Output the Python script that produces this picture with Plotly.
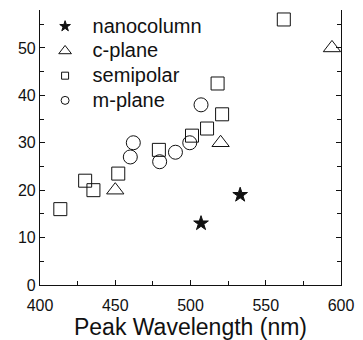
import plotly.graph_objects as go

# Data
nano_x = [507, 533]
nano_y = [13, 19]

cplane_x = [450, 520, 594]
cplane_y = [20, 30, 50]

semi_x = [413.5, 430, 435.5, 452, 479, 501, 511, 518, 521, 562]
semi_y = [16, 22, 20, 23.5, 28.5, 31.5, 33, 42.5, 36, 56]

mplane_x = [460, 462, 479.5, 490, 499.5, 507]
mplane_y = [27, 30, 26, 28, 30, 38]

series_names = ["nanocolumn", "c-plane", "semipolar", "m-plane"]

FONT = "Liberation Sans, Arial, sans-serif"
INK = "#111111"

fig = go.Figure()

main = [
    (nano_x, nano_y, "star", 11, INK),
    (cplane_x, cplane_y, "triangle-up-open", 15, None),
    (semi_x, semi_y, "square-open", 13, None),
    (mplane_x, mplane_y, "circle-open", 14, None),
]
legend_sizes = [8, 11, 7, 8]

for (xs, ys, sym, sz, fill), name, lsz in zip(main, series_names, legend_sizes):
    fig.add_trace(go.Scatter(
        x=xs, y=ys, mode="markers", name=name, showlegend=False,
        legendgroup=name, cliponaxis=False,
        marker=dict(symbol=sym, size=sz, color=INK,
                    line=dict(color=INK, width=1)),
    ))
    # legend-only entry with smaller marker, as in the reference legend
    fig.add_trace(go.Scatter(
        x=[None], y=[None], mode="markers",
        name='<span style="font-size:20px">' + name + '</span>',
        legendgroup=name, showlegend=True,
        marker=dict(symbol=sym, size=lsz, color=INK,
                    line=dict(color=INK, width=1)),
    ))

fig.update_layout(
    width=363, height=340,
    margin=dict(l=40, r=17, t=9, b=47),
    paper_bgcolor="white", plot_bgcolor="white",
    font=dict(family=FONT, color=INK, size=16),
    showlegend=True,
    legend=dict(
        x=-0.008, y=1.004, xanchor="left", yanchor="top",
        bgcolor="rgba(0,0,0,0)", borderwidth=0,
        font=dict(size=16.7, family=FONT, color=INK),
        itemwidth=45, itemsizing="trace",
        tracegroupgap=0,
    ),
    xaxis=dict(
        range=[400, 600], tickvals=[400, 450, 500, 550, 600],
        ticks="inside", ticklen=5, tickwidth=1, tickcolor=INK,
        showline=True, linecolor=INK, linewidth=1.2, mirror=False,
        showgrid=False, zeroline=False,
        tickfont=dict(size=16, family=FONT, color=INK),
        ticklabelstandoff=6,
        minor=dict(dtick=25, tick0=400, ticks="inside", ticklen=4, tickcolor=INK, showgrid=False),
        title=dict(text="Peak Wavelength (nm)", font=dict(size=23, family=FONT, color=INK), standoff=1),
    ),
    yaxis=dict(
        range=[0, 58], tickvals=[0, 10, 20, 30, 40, 50],
        ticks="inside", ticklen=5, tickwidth=1, tickcolor=INK,
        showline=True, linecolor=INK, linewidth=1.2, mirror="ticks",
        showgrid=False, zeroline=False,
        tickfont=dict(size=16, family=FONT, color=INK),
        minor=dict(dtick=5, tick0=0, ticks="inside", ticklen=4, tickcolor=INK, showgrid=False),
    ),
)

fig.write_html("out.html")
